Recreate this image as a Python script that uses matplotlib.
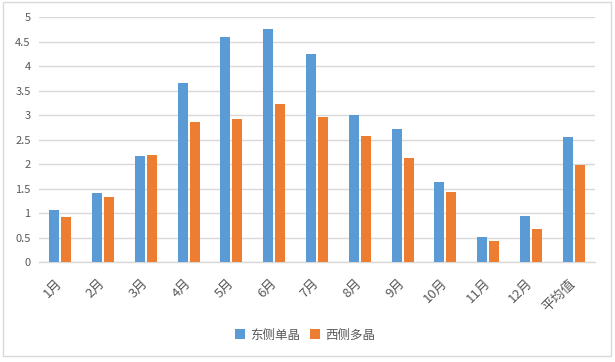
import matplotlib
matplotlib.use("Agg")
import matplotlib.pyplot as plt
from matplotlib.patches import Rectangle
import numpy as np

plt.rcParams['font.family'] = ['Noto Sans CJK SC', 'DejaVu Sans']

categories = ['1月', '2月', '3月', '4月', '5月', '6月', '7月', '8月', '9月', '10月', '11月', '12月', '平均值']
east_mono = [1.06, 1.41, 2.16, 3.65, 4.59, 4.76, 4.24, 3.00, 2.71, 1.63, 0.51, 0.94, 2.55]
west_poly = [0.92, 1.33, 2.18, 2.86, 2.92, 3.22, 2.96, 2.57, 2.12, 1.43, 0.43, 0.67, 1.98]
series_names = ['东侧单晶', '西侧多晶']
y_ticks = [0, 0.5, 1, 1.5, 2, 2.5, 3, 3.5, 4, 4.5, 5]
y_tick_labels = ['0', '0.5', '1', '1.5', '2', '2.5', '3', '3.5', '4', '4.5', '5']

blue = '#5B9BD5'
orange = '#ED7D31'
text_c = '#595959'
grid_c = '#D9D9D9'

fig = plt.figure(figsize=(6.15, 3.62), dpi=100)
ax = fig.add_axes([39/615, 1 - 262/362, (595-39)/615, (262-17.3)/362])

x = np.arange(len(categories))
w = 0.235
off = 0.14
ax.bar(x - off, east_mono, width=w, color=blue, label=series_names[0], zorder=3)
ax.bar(x + off, west_poly, width=w, color=orange, label=series_names[1], zorder=3)

ax.set_xlim(-0.5, len(categories) - 0.5)
ax.set_ylim(0, 5)
ax.set_yticks(y_ticks)
ax.set_yticklabels(y_tick_labels, color=text_c, fontsize=8)
ax.set_xticks(x)
ax.set_xticklabels(categories, rotation=45, ha='right', va='center', rotation_mode='anchor',
                   color=text_c, fontsize=9.5)
ax.tick_params(axis='both', length=0)
ax.tick_params(axis='y', pad=6)
ax.tick_params(axis='x', pad=14)
ax.yaxis.grid(True, color=grid_c, linewidth=1, zorder=0)
ax.set_axisbelow(True)
for s in ['top', 'right', 'left']:
    ax.spines[s].set_visible(False)
ax.spines['bottom'].set_color(grid_c)
ax.spines['bottom'].set_linewidth(1)

leg = fig.legend(loc='center', bbox_to_anchor=(305/615, 1 - 335/362), ncol=2,
                 frameon=False, fontsize=9, handlelength=0.8, handleheight=0.8,
                 handletextpad=0.4, columnspacing=0.8)
for t in leg.get_texts():
    t.set_color(text_c)

fig.patches.append(Rectangle((2.5/615, 1 - 356/362), (610.5-2.5)/615, (356-1.5)/362,
                             transform=fig.transFigure, fill=False,
                             edgecolor=grid_c, linewidth=1))

fig.savefig('out.png', dpi=100)
